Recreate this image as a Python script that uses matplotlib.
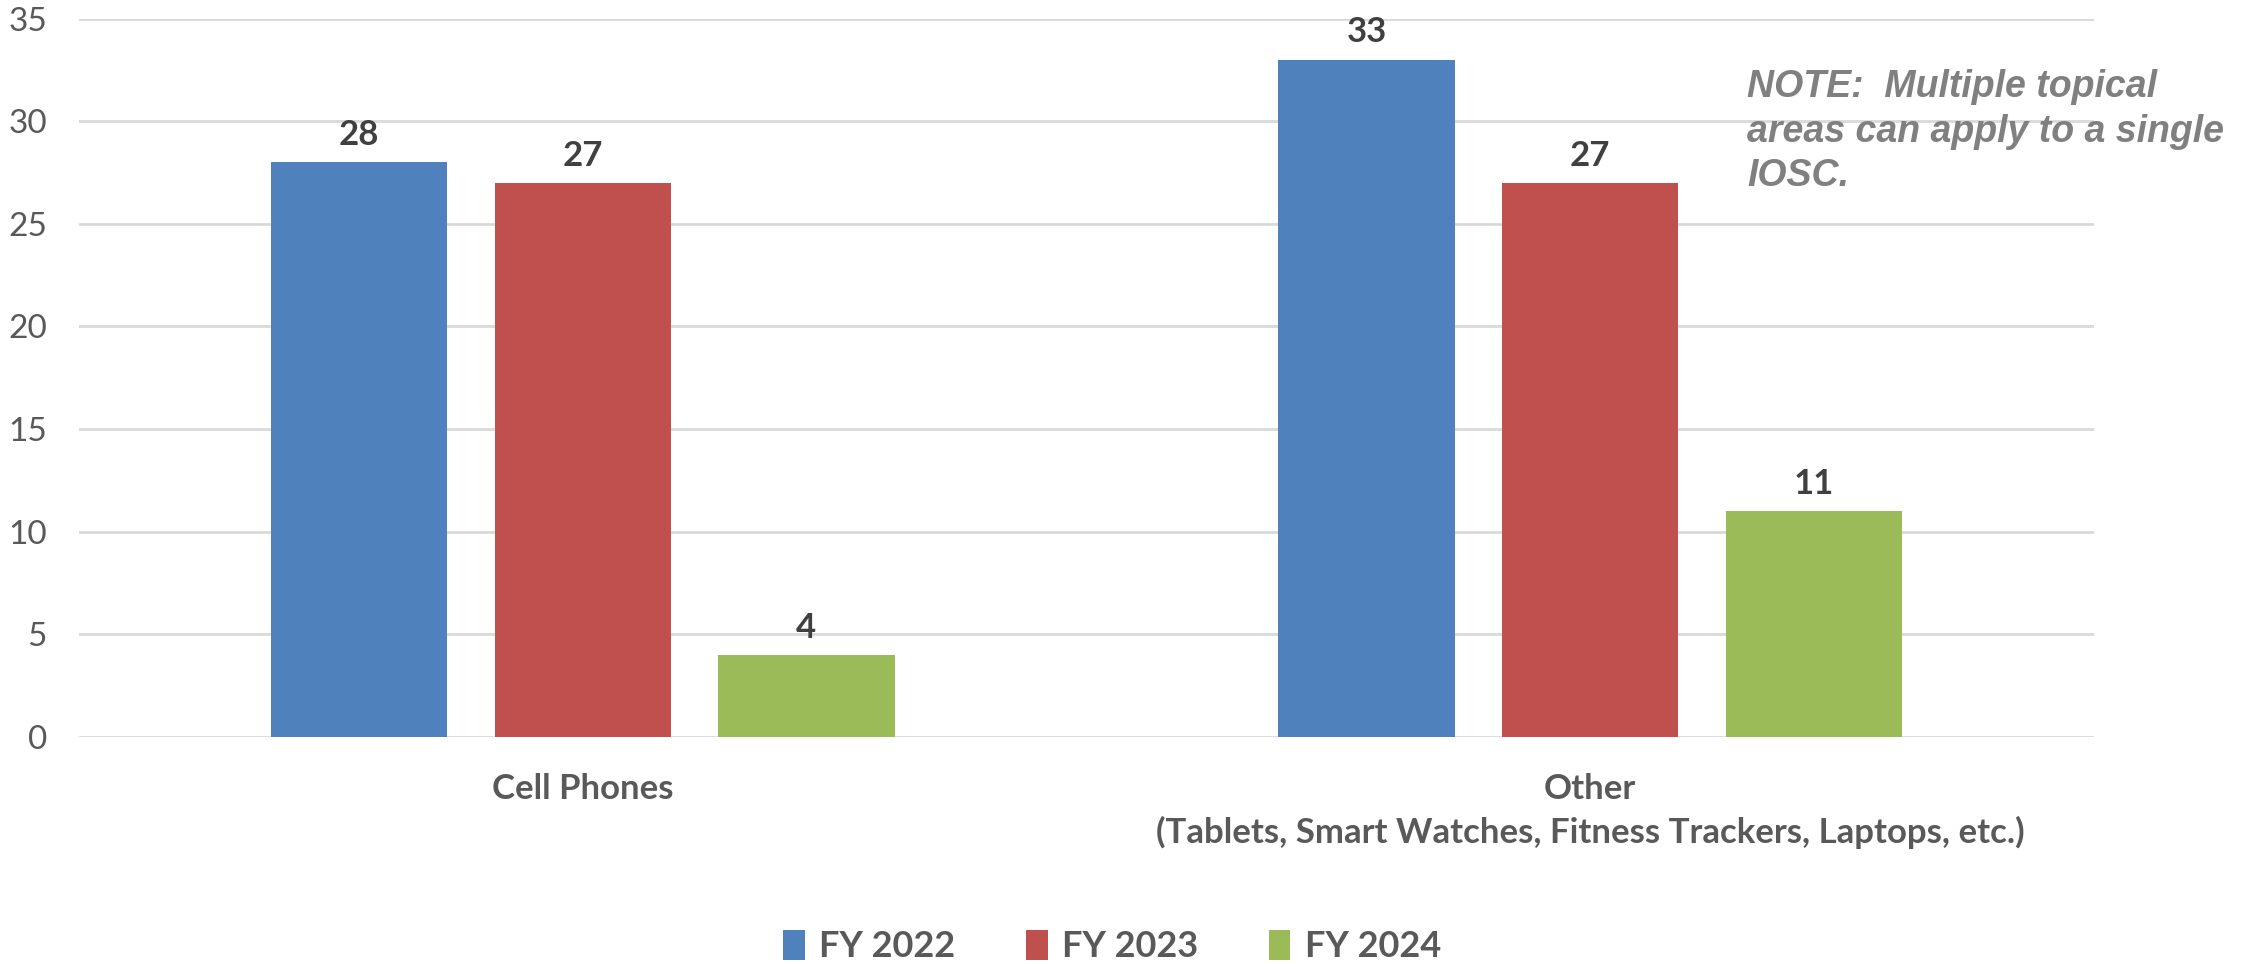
import numpy as np
from matplotlib import pyplot as plt

categories = ['Cell Phones', 'Other\n(Tablets, Smart Watches, Fitness Trackers, Laptops, etc.)']
series = ['FY 2022', 'FY 2023', 'FY 2024']
fy2022 = [28, 33]
fy2023 = [27, 27]
fy2024 = [4, 11]
values = [fy2022, fy2023, fy2024]
colors = ['#4F81BD', '#C0504D', '#9BBB59']
note = 'NOTE:  Multiple topical\nareas can apply to a single\nIOSC.'

plt.rcParams['font.family'] = ['Lato', 'DejaVu Sans']

fig = plt.figure(figsize=(22.49, 9.64), dpi=100)
ax = fig.add_axes([0.0351, 0.2355, 0.896, 0.7452])

x = np.arange(len(categories))
width = 0.175
step = 0.222
for i, (name, vals, col) in enumerate(zip(series, values, colors)):
    pos = x + (i - 1) * step
    bars = ax.bar(pos, vals, width, color=col, label=name, zorder=3)
    for b, v in zip(bars, vals):
        ax.text(b.get_x() + b.get_width() / 2, v + 0.55, str(v), ha='center', va='bottom',
                fontsize=25, fontweight='bold', color='#404040')

ax.set_xlim(-0.5, 1.5)
ax.set_ylim(0, 35)
ax.set_yticks(np.arange(0, 36, 5))
ax.yaxis.grid(True, color='#D9D9D9', linewidth=2, zorder=0)
for s in ax.spines.values():
    s.set_visible(False)
ax.tick_params(axis='both', length=0)
ax.tick_params(axis='y', labelsize=24, labelcolor='#595959', pad=23)
ax.set_xticks(x)
ax.set_xticklabels(categories, fontsize=25, fontweight='bold', color='#595959', linespacing=1.4)
ax.tick_params(axis='x', pad=26)
for lbl in ax.get_yticklabels():
    lbl.set_horizontalalignment('right')

fig.text(0.777, 0.928, note, fontsize=27, fontweight='bold', fontstyle='italic',
         color='#808080', family='Liberation Sans', va='top', ha='left', linespacing=1.3)

leg = fig.legend(loc='lower center', bbox_to_anchor=(0.4945, -0.033), ncol=3, frameon=False,
                 fontsize=26, handlelength=0.6, handleheight=0.9, columnspacing=1.95, handletextpad=0.4)
for t in leg.get_texts():
    t.set_color('#595959')
    t.set_fontweight('bold')

plt.savefig('out.png')
